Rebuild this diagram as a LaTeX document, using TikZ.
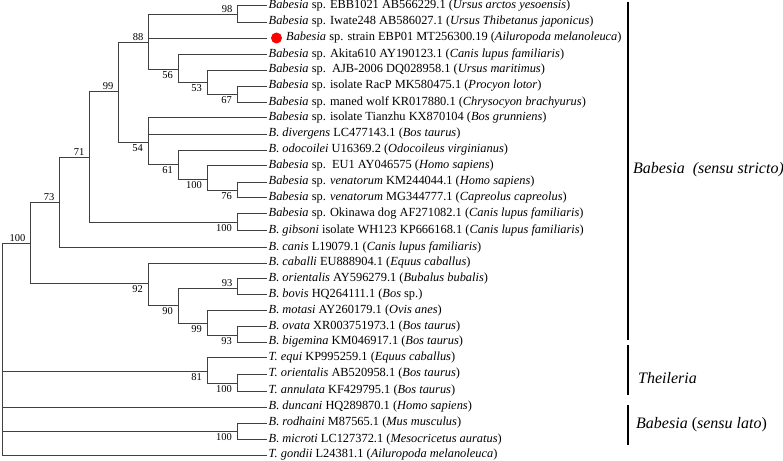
\documentclass[tikz,border=0pt]{standalone}
\usepackage{fontspec}
\setmainfont{Liberation Serif}

\tikzset{
  branch/.style={draw=black!75, line width=0.9pt},
  leaf/.style={anchor=west, inner sep=1.5pt, font=\fontsize{12.4}{14}\selectfont},
  bsup/.style={anchor=south east, inner sep=1.5pt, font=\fontsize{10.5}{12}\selectfont},
  bsdown/.style={anchor=north east, inner sep=2pt, font=\fontsize{10.5}{12}\selectfont},
  clade/.style={anchor=west, inner sep=0pt, font=\fontsize{16}{18}\selectfont\itshape}
}

\begin{document}
\begin{tikzpicture}[x=1pt, y=-1pt]
      \useasboundingbox (0,0) rectangle (783,460);

      % internal nodes
      \coordinate (root) at (2, 349);
      \coordinate (bab) at (30, 243);
      \coordinate (b73) at (59, 202);
      \coordinate (b71) at (89, 157);
      \coordinate (b99) at (118, 91);
      \coordinate (b88) at (148, 42);
      \coordinate (bear) at (237, 14);
      \coordinate (b56) at (178, 69);
      \coordinate (b53) at (207, 82);
      \coordinate (b67) at (237, 94);
      \coordinate (b54) at (148, 142);
      \coordinate (b61) at (178, 164);
      \coordinate (ven) at (207, 179);
      \coordinate (b76) at (237, 190);
      \coordinate (gib) at (237, 222);
      \coordinate (cab) at (148, 283);
      \coordinate (b90) at (178, 305);
      \coordinate (ori) at (237, 288);
      \coordinate (b99b) at (207, 323);
      \coordinate (big) at (237, 335);
      \coordinate (thei) at (207, 371);
      \coordinate (tann) at (237, 383);
      \coordinate (micro) at (237, 431);

      % leaves
      \node[leaf] (l1) at (267, 5.5) {\textit{Babesia} sp. EBB1021 AB566229.1 (\textit{Ursus arctos yesoensis})};
      \node[leaf] (l2) at (267, 22) {\textit{Babesia} sp. Iwate248 AB586027.1 (\textit{Ursus Thibetanus japonicus})};
      \node[circle, fill=red, minimum size=11pt, inner sep=0pt, outer sep=4pt] (dot) at (276.5, 38) {};
      \node[leaf] (l3) at (284.5, 38) {\textit{Babesia} sp. strain EBP01 MT256300.19 (\textit{Ailuropoda melanoleuca})};
      \node[leaf] (l4) at (267, 54) {\textit{Babesia} sp. Akita610 AY190123.1 (\textit{Canis lupus familiaris})};
      \node[leaf] (l5) at (267, 70) {\textit{Babesia} sp.\ \ AJB-2006 DQ028958.1 (\textit{Ursus maritimus})};
      \node[leaf] (l6) at (267, 86) {\textit{Babesia} sp. isolate RacP MK580475.1 (\textit{Procyon lotor})};
      \node[leaf] (l7) at (267, 102) {\textit{Babesia} sp. maned wolf KR017880.1 (\textit{Chrysocyon brachyurus})};
      \node[leaf] (l8) at (267, 117.5) {\textit{Babesia} sp. isolate Tianzhu KX870104 (\textit{Bos grunniens})};
      \node[leaf] (l9) at (267, 134) {\textit{B. divergens} LC477143.1 (\textit{Bos taurus})};
      \node[leaf] (l10) at (267, 150) {\textit{B. odocoilei} U16369.2 (\textit{Odocoileus virginianus})};
      \node[leaf] (l11) at (267, 165.5) {\textit{Babesia} sp.\ \ EU1 AY046575 (\textit{Homo sapiens})};
      \node[leaf] (l12) at (267, 182) {\textit{Babesia} sp. \textit{venatorum} KM244044.1 (\textit{Homo sapiens})};
      \node[leaf] (l13) at (267, 197.5) {\textit{Babesia} sp. \textit{venatorum} MG344777.1 (\textit{Capreolus capreolus})};
      \node[leaf] (l14) at (267, 213.5) {\textit{Babesia} sp. Okinawa dog AF271082.1 (\textit{Canis lupus familiaris})};
      \node[leaf] (l15) at (267, 230) {\textit{B. gibsoni} isolate WH123 KP666168.1 (\textit{Canis lupus familiaris})};
      \node[leaf] (l16) at (267, 247) {\textit{B. canis} L19079.1 (\textit{Canis lupus familiaris})};
      \node[leaf] (l17) at (267, 263) {\textit{B. caballi} EU888904.1 (\textit{Equus caballus})};
      \node[leaf] (l18) at (267, 278.5) {\textit{B. orientalis} AY596279.1 (\textit{Bubalus bubalis})};
      \node[leaf] (l19) at (267, 294.5) {\textit{B. bovis} HQ264111.1 (\textit{Bos} sp.)};
      \node[leaf] (l20) at (267, 310.5) {\textit{B. motasi} AY260179.1 (\textit{Ovis anes})};
      \node[leaf] (l21) at (267, 326.5) {\textit{B. ovata} XR003751973.1 (\textit{Bos taurus})};
      \node[leaf] (l22) at (267, 342) {\textit{B. bigemina} KM046917.1 (\textit{Bos taurus})};
      \node[leaf] (l23) at (267, 357.5) {\textit{T. equi} KP995259.1 (\textit{Equus caballus})};
      \node[leaf] (l24) at (267, 374) {\textit{T. orientalis} AB520958.1 (\textit{Bos taurus})};
      \node[leaf] (l25) at (267, 391) {\textit{T. annulata} KF429795.1 (\textit{Bos taurus})};
      \node[leaf] (l26) at (267, 407) {\textit{B. duncani} HQ289870.1 (\textit{Homo sapiens})};
      \node[leaf] (l27) at (267, 423) {\textit{B. rodhaini} M87565.1 (\textit{Mus musculus})};
      \node[leaf] (l28) at (267, 439.5) {\textit{B. microti} LC127372.1 (\textit{Mesocricetus auratus})};
      \node[leaf] (l29) at (267, 455) {\textit{T. gondii} L24381.1 (\textit{Ailuropoda melanoleuca})};

      % branches
      \draw[branch] (root) |- (bab);
      \draw[branch] (root) |- (thei);
      \draw[branch] (root) |- (l26.west);
      \draw[branch] (root) |- (micro);
      \draw[branch] (root) |- (l29.west);
      \draw[branch] (bab) |- (b73);
      \draw[branch] (bab) |- (cab);
      \draw[branch] (b73) |- (b71);
      \draw[branch] (b73) |- (l16.west);
      \draw[branch] (b71) |- (b99);
      \draw[branch] (b71) |- (gib);
      \draw[branch] (b99) |- (b88);
      \draw[branch] (b99) |- (b54);
      \draw[branch] (b88) |- (bear);
      \draw[branch] (b88) |- (dot.west);
      \draw[branch] (b88) |- (b56);
      \draw[branch] (bear) |- (l1.west);
      \draw[branch] (bear) |- (l2.west);
      \draw[branch] (b56) |- (l4.west);
      \draw[branch] (b56) |- (b53);
      \draw[branch] (b53) |- (l5.west);
      \draw[branch] (b53) |- (b67);
      \draw[branch] (b67) |- (l6.west);
      \draw[branch] (b67) |- (l7.west);
      \draw[branch] (b54) |- (l8.west);
      \draw[branch] (b54) |- (l9.west);
      \draw[branch] (b54) |- (b61);
      \draw[branch] (b61) |- (l10.west);
      \draw[branch] (b61) |- (ven);
      \draw[branch] (ven) |- (l11.west);
      \draw[branch] (ven) |- (b76);
      \draw[branch] (b76) |- (l12.west);
      \draw[branch] (b76) |- (l13.west);
      \draw[branch] (gib) |- (l14.west);
      \draw[branch] (gib) |- (l15.west);
      \draw[branch] (cab) |- (l17.west);
      \draw[branch] (cab) |- (b90);
      \draw[branch] (b90) |- (ori);
      \draw[branch] (b90) |- (b99b);
      \draw[branch] (ori) |- (l18.west);
      \draw[branch] (ori) |- (l19.west);
      \draw[branch] (b99b) |- (l20.west);
      \draw[branch] (b99b) |- (big);
      \draw[branch] (big) |- (l21.west);
      \draw[branch] (big) |- (l22.west);
      \draw[branch] (thei) |- (l23.west);
      \draw[branch] (thei) |- (tann);
      \draw[branch] (tann) |- (l24.west);
      \draw[branch] (tann) |- (l25.west);
      \draw[branch] (micro) |- (l27.west);
      \draw[branch] (micro) |- (l28.west);

      % bootstrap values
      \node[bsup] (v98) at ([xshift=-3pt]bear) {98};
      \node[bsup] (v88) at ([xshift=-3pt]b88) {88};
      \node[bsdown] (v56) at ([xshift=-3pt]b56) {56};
      \node[bsdown] (v53) at ([xshift=-3pt]b53) {53};
      \node[bsdown] (v67) at ([xshift=-3pt]b67) {67};
      \node[bsup] (v99) at ([xshift=-3pt]b99) {99};
      \node[bsdown] (v54) at ([xshift=-3pt]b54) {54};
      \node[bsdown] (v61) at ([xshift=-3pt]b61) {61};
      \node[bsdown] (vven) at ([xshift=-3pt]ven) {100};
      \node[bsdown] (v76) at ([xshift=-3pt]b76) {76};
      \node[bsup] (v71) at ([xshift=-3pt]b71) {71};
      \node[bsup] (v73) at ([xshift=-3pt]b73) {73};
      \node[bsdown] (vgib) at ([xshift=-3pt]gib) {100};
      \node[bsup] (vbab) at ([xshift=-3pt]bab) {100};
      \node[bsdown] (v92) at ([xshift=-3pt]cab) {92};
      \node[bsdown] (v90) at ([xshift=-3pt]b90) {90};
      \node[bsup] (v93) at ([xshift=-3pt]ori) {93};
      \node[bsdown] (v99b) at ([xshift=-3pt]b99b) {99};
      \node[bsdown] (v93b) at ([xshift=-3pt]big) {93};
      \node[bsdown] (v81) at ([xshift=-3pt]thei) {81};
      \node[bsdown] (vtann) at ([xshift=-3pt]tann) {100};
      \node[bsdown] (vmicro) at ([xshift=-3pt]micro) {100};

      % clade bars
      \coordinate (ssTop) at (628, 2);
      \coordinate (ssBot) at (628, 340);
      \coordinate (thTop) at (628, 345);
      \coordinate (thBot) at (628, 395);
      \coordinate (slTop) at (628, 405);
      \coordinate (slBot) at (628, 445);
      \draw[line width=1.1pt] (ssTop) -- (ssBot);
      \draw[line width=1.1pt] (thTop) -- (thBot);
      \draw[line width=1.1pt] (slTop) -- (slBot);
      \node[clade] (ss) at (633, 170) {Babesia\ \ (sensu stricto)};
      \node[clade] (th) at (638, 378) {Theileria};
      \node[clade] (sl) at (636, 425) {Babesia \upshape(\itshape sensu lato\upshape)};
\end{tikzpicture}
\end{document}
